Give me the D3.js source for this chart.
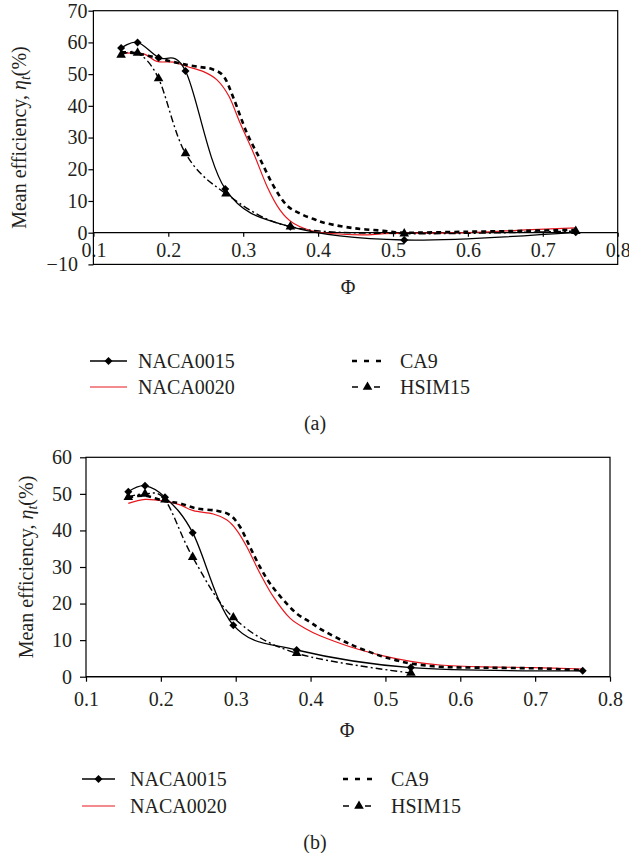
<!DOCTYPE html>
<meta charset="utf-8">

<!-- Load d3.js -->
<script src="https://d3js.org/d3.v7.min.js"></script>

<style>
  body { margin: 0; background: #fff; }
  text { font-family: "Liberation Serif", "Times New Roman", Times, serif; fill: #231f20; }
</style>

<body>

<!-- Create a div where the graph will take place -->
<div id="my_dataviz"></div>

<script>

// ---------- panel (a) data ----------
var phiA15 = [0.137, 0.159, 0.187, 0.223, 0.276, 0.363, 0.515, 0.744];
var etaA15 = [58.2, 60.0, 55.2, 51.0, 13.8, 1.9, -2.3, 0.1];

var phiA20 = [0.143, 0.167, 0.185, 0.207, 0.225, 0.247, 0.265, 0.281, 0.296, 0.314, 0.332, 0.349, 0.367, 0.398, 0.456, 0.50, 0.60, 0.677, 0.744];
var etaA20 = [56.6, 56.4, 54.0, 53.8, 52.4, 50.8, 48.2, 43.0, 34.5, 25.0, 14.5, 7.2, 3.0, 0.3, -0.7, -0.2, 0.0, 0.9, 1.5];

var phiACA9 = [0.137, 0.159, 0.187, 0.200, 0.223, 0.243, 0.258, 0.274, 0.287, 0.305, 0.323, 0.341, 0.358, 0.376, 0.394, 0.412, 0.448, 0.487, 0.515, 0.60, 0.68, 0.744];
var etaACA9 = [57.0, 56.5, 55.0, 54.2, 53.0, 52.2, 51.6, 49.3, 42.5, 31.4, 23.0, 14.5, 8.7, 6.0, 4.3, 2.9, 1.4, 0.6, 0.0, 0.3, 0.6, 0.9];

var phiAHS = [0.137, 0.159, 0.187, 0.223, 0.277, 0.363, 0.515, 0.744];
var etaAHS = [56.0, 56.7, 48.6, 25.0, 12.3, 1.9, -0.3, 0.5];

// ---------- panel (b) data ----------
var phiB15 = [0.1565, 0.1788, 0.2055, 0.2425, 0.2968, 0.3814, 0.534, 0.7635];
var etaB15 = [50.6, 52.2, 49.1, 39.4, 14.1, 7.3, 2.5, 1.6];

var phiB20 = [0.1565, 0.1788, 0.2055, 0.2256, 0.2434, 0.2701, 0.2879, 0.3012, 0.3146, 0.3324, 0.3502, 0.3725, 0.3948, 0.4126, 0.4527, 0.4972, 0.534, 0.5729, 0.631, 0.6976, 0.7635];
var etaB20 = [47.4, 48.5, 48.0, 47.0, 45.4, 44.5, 42.9, 40.1, 35.6, 28.3, 21.9, 16.0, 13.0, 11.2, 8.2, 5.7, 4.2, 3.2, 2.7, 2.5, 2.1];

var phiBCA9 = [0.1565, 0.1788, 0.2055, 0.2256, 0.2479, 0.2746, 0.2924, 0.3057, 0.319, 0.3324, 0.3458, 0.3636, 0.3814, 0.399, 0.417, 0.4527, 0.4905, 0.5127, 0.534, 0.5729, 0.617, 0.6976, 0.7377, 0.7635];
var etaBCA9 = [49.0, 49.5, 48.0, 47.4, 46.0, 45.4, 44.2, 41.0, 35.5, 30.0, 25.5, 21.0, 17.3, 15.0, 12.6, 8.9, 5.9, 4.6, 3.6, 2.7, 2.5, 2.3, 2.0, 1.8];

var phiBHS = [0.1565, 0.1788, 0.2055, 0.2425, 0.2968, 0.3814, 0.534];
var etaBHS = [49.1, 50.0, 48.4, 32.7, 16.2, 6.4, 1.0];

// ---------- ticks and labels ----------
var xTicks = [0.1, 0.2, 0.3, 0.4, 0.5, 0.6, 0.7, 0.8];
var yTicksA = [-10, 0, 10, 20, 30, 40, 50, 60, 70];
var yTicksB = [0, 10, 20, 30, 40, 50, 60];
var seriesNames = ["NACA0015", "NACA0020", "CA9", "HSIM15"];

// line styles for each series (same order as seriesNames)
var styles = [
  {stroke: "#000", width: 1.3, dash: null, marker: "diamond"},
  {stroke: "#e8161c", width: 1.2, dash: null, marker: null},
  {stroke: "#000", width: 2.6, dash: "5,4", marker: null},
  {stroke: "#000", width: 1.4, dash: "7,3,2,3", marker: "triangle"}
];

var fontStack = '"Liberation Serif", "Times New Roman", Times, serif';

var svg = d3.select("#my_dataviz")
  .append("svg")
    .attr("width", 629)
    .attr("height", 853);

function zip(xs, ys) {
  return xs.map(function(x, i) { return [x, ys[i]]; });
}

function markerPath(type, size) {
  if (type == "diamond") return d3.symbol(d3.symbolSquare, size || 32)();
  return d3.symbol(d3.symbolTriangle, size || 40)();
}

function drawMarker(g, type, cx, cy) {
  g.append("path")
    .attr("d", markerPath(type))
    .attr("transform", "translate(" + cx + "," + cy + ")" + (type == "diamond" ? " rotate(45)" : ""))
    .attr("fill", "#000");
}

function drawPanel(p) {
  var g = svg.append("g");

  var x = d3.scaleLinear().domain([0.1, 0.8]).range([p.left, p.right]);
  var y = d3.scaleLinear().domain(p.yDomain).range([p.bottom, p.top]);

  // y axis
  var yAx = g.append("g")
    .attr("transform", "translate(" + p.left + ",0)")
    .call(d3.axisLeft(y).tickValues(p.yTicks).tickSize(p.yTickSize).tickPadding(p.yPad));
  yAx.select(".domain").remove();
  // the -10 label is pushed left, away from the 0.1 label
  yAx.selectAll(".tick text").filter(function(d) { return d < 0; }).attr("x", -15.5);

  // x axis, sits on eta = 0
  var xAx = g.append("g")
    .attr("transform", "translate(0," + y(0) + ")")
    .call(d3.axisBottom(x).tickValues(xTicks).tickSize(p.xTickSize).tickPadding(p.xPad)
      .tickFormat(d3.format(".1f")));
  xAx.select(".domain").remove();

  [yAx, xAx].forEach(function(a) {
    a.attr("font-family", fontStack).attr("font-size", 20);
    a.selectAll("line").attr("stroke", "#000").attr("stroke-width", 1.2);
    a.selectAll("text").attr("fill", "#231f20");
  });

  // frame + zero line
  g.append("rect")
    .attr("x", p.left).attr("y", p.top)
    .attr("width", p.right - p.left).attr("height", p.bottom - p.top)
    .attr("fill", "none").attr("stroke", "#000").attr("stroke-width", 1.2);
  g.append("line")
    .attr("x1", p.left).attr("x2", p.right)
    .attr("y1", y(0)).attr("y2", y(0))
    .attr("stroke", "#000").attr("stroke-width", 1.2);

  var line = d3.line()
    .x(function(d) { return x(d[0]); })
    .y(function(d) { return y(d[1]); })
    .curve(d3.curveCardinal.tension(0));

  // draw order: red, CA9, HSIM15, NACA0015
  [1, 2, 3, 0].forEach(function(i) {
    var st = styles[i];
    g.append("path")
      .datum(p.series[i])
      .attr("d", line)
      .attr("fill", "none")
      .attr("stroke", st.stroke)
      .attr("stroke-width", st.width)
      .attr("stroke-dasharray", st.dash);
  });

  [3, 0].forEach(function(i) {
    p.series[i].forEach(function(d) {
      drawMarker(g, styles[i].marker, x(d[0]), y(d[1]));
    });
  });

  // axis titles
  var yl = g.append("text")
    .attr("transform", "translate(" + p.yLabelX + "," + ((p.top + p.bottom) / 2) + ") rotate(-90)")
    .attr("text-anchor", "middle")
    .attr("font-size", 20);
  yl.append("tspan").text("Mean efficiency, ");
  yl.append("tspan").attr("font-style", "italic").text("\u03b7");
  yl.append("tspan").attr("font-style", "italic").attr("font-size", 14).attr("dy", 4).text("t");
  yl.append("tspan").attr("dy", -4).text("(%)");

  g.append("text")
    .attr("x", p.phiX).attr("y", p.phiY)
    .attr("text-anchor", "middle")
    .attr("font-size", 20)
    .text("\u03a6");

  // legend
  seriesNames.forEach(function(name, i) {
    var col = Math.floor(i / 2), row = i % 2;
    var ly = p.legendY + row * p.legendDy;
    var x0 = p.legendCols[col][0], x1 = p.legendCols[col][1];
    var st = styles[i];
    g.append("line")
      .attr("x1", x0).attr("x2", x1).attr("y1", ly).attr("y2", ly)
      .attr("stroke", st.stroke)
      .attr("stroke-width", i == 2 ? 2.4 : st.width)
      .attr("stroke-dasharray", i == 2 ? "5,7" : (i == 3 ? "6,16,6" : null));
    if (st.marker) drawMarker(g, st.marker, (x0 + x1) / 2, ly);
    g.append("text")
      .attr("x", p.legendCols[col][2]).attr("y", ly + 7)
      .attr("font-size", 20)
      .text(name);
  });

  g.append("text")
    .attr("x", 315).attr("y", p.captionY)
    .attr("text-anchor", "middle")
    .attr("font-size", 20)
    .text(p.caption);
}

drawPanel({
  left: 93.4, right: 617.7, top: 10.7, bottom: 264.4,
  yDomain: [-10, 70], yTicks: yTicksA, yTickSize: 5, yPad: 1,
  xTickSize: 4, xPad: 6,
  series: [zip(phiA15, etaA15), zip(phiA20, etaA20), zip(phiACA9, etaACA9), zip(phiAHS, etaAHS)],
  yLabelX: 26, phiX: 348, phiY: 294,
  legendY: 361, legendDy: 26,
  legendCols: [[90, 127, 138], [352, 383, 400]],
  captionY: 430, caption: "(a)"
});

drawPanel({
  left: 86, right: 610, top: 457.3, bottom: 676.7,
  yDomain: [0, 60], yTicks: yTicksB, yTickSize: 6, yPad: 8,
  xTickSize: 5, xPad: 10,
  series: [zip(phiB15, etaB15), zip(phiB20, etaB20), zip(phiBCA9, etaBCA9), zip(phiBHS, etaBHS)],
  yLabelX: 33, phiX: 347, phiY: 737,
  legendY: 779, legendDy: 27,
  legendCols: [[82, 115, 130], [343, 375, 391]],
  captionY: 849, caption: "(b)"
});

</script>

</body>
